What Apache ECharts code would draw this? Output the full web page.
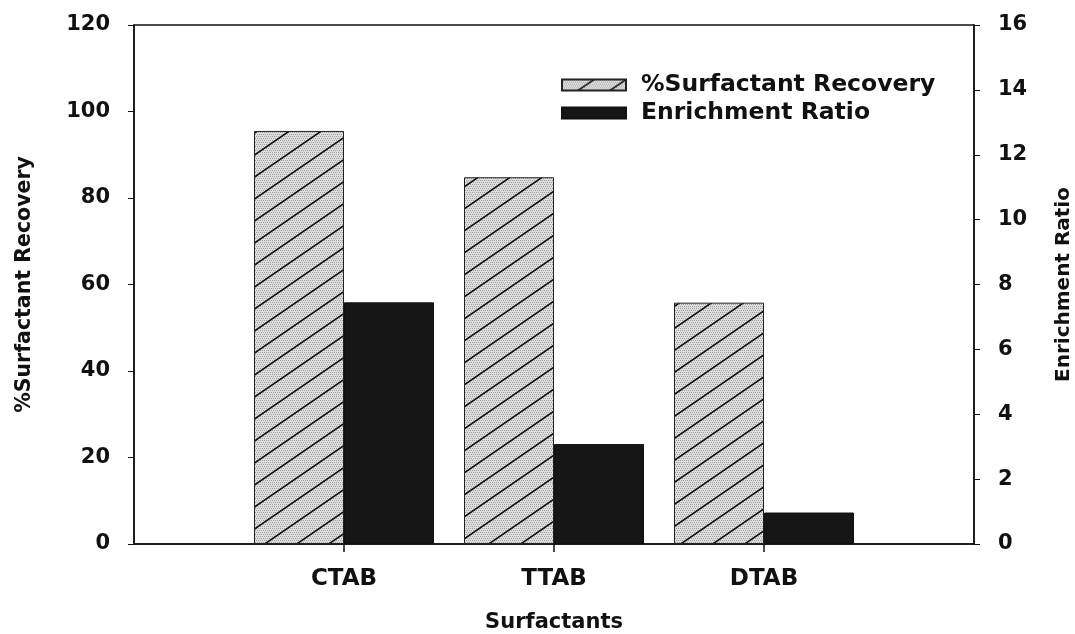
<!DOCTYPE html>
<html>
<head>
<meta charset="utf-8">
<script src="https://cdn.jsdelivr.net/npm/echarts@6/dist/echarts.min.js"></script>
<style>
html, body { margin: 0; padding: 0; background: #fff; }
#chart { width: 1075px; height: 634px; }
</style>
</head>
<body>
<div id="chart"></div>
<script>
// data
var surfactants = ['', 'CTAB', 'TTAB', 'DTAB', ''];
var recovery = ['-', 95.5, 84.8, 55.8, '-'];      // %Surfactant Recovery (left axis)
var enrichment = ['-', 7.45, 3.08, 0.97, '-'];    // Enrichment Ratio (right axis)

// hatched + dotted fill for the recovery bars
function hatch() {
    var w = 32, h = 22;
    var c = document.createElement('canvas');
    c.width = w; c.height = h;
    var ctx = c.getContext('2d');
    ctx.fillStyle = '#dedede';
    ctx.fillRect(0, 0, w, h);
    ctx.fillStyle = '#a0a0a0';
    for (var y = 0; y < h; y += 2) {
        for (var x = (y % 4 ? 1 : 0); x < w; x += 2) {
            ctx.fillRect(x, y, 1, 1);
        }
    }
    ctx.strokeStyle = '#111';
    ctx.lineWidth = 1.6;
    ctx.beginPath();
    ctx.moveTo(-w, 2 * h); ctx.lineTo(2 * w, -h);
    ctx.moveTo(-2 * w, 2 * h); ctx.lineTo(w, -h);
    ctx.moveTo(0, 2 * h); ctx.lineTo(3 * w, -h);
    ctx.stroke();
    return c;
}

var font = '"DejaVu Sans", Verdana, sans-serif';
var chart = echarts.init(document.getElementById('chart'));
chart.setOption({
    animation: false,
    textStyle: { fontFamily: font },
    grid: {
        left: 134,
        right: 101,
        top: 25,
        bottom: 90,
        containLabel: false,
        outerBoundsMode: 'none',
        show: true,
        borderColor: '#111',
        borderWidth: 1.5
    },
    legend: {
        orient: 'vertical',
        left: 556,
        top: 68,
        itemWidth: 64,
        itemHeight: 11,
        itemGap: 4,
        icon: 'rect',
        textStyle: { fontSize: 23.5, fontWeight: 'bold', color: '#111', fontFamily: font, padding: [0, 0, 0, 10] },
        data: ['%Surfactant Recovery', 'Enrichment Ratio']
    },
    xAxis: {
        type: 'category',
        data: surfactants,
        boundaryGap: false,
        name: 'Surfactants',
        nameLocation: 'middle',
        nameGap: 68,
        nameTextStyle: { fontSize: 21, fontWeight: 'bold', color: '#111' },
        axisLine: { lineStyle: { color: '#111', width: 1.5 } },
        axisTick: {
            length: 8,
            interval: function (i, v) { return v !== ''; },
            lineStyle: { color: '#111', width: 1.5 }
        },
        axisLabel: { fontSize: 23, fontWeight: 'bold', color: '#111', margin: 24 },
        splitLine: { show: false }
    },
    yAxis: [
        {
            type: 'value',
            min: 0,
            max: 120,
            interval: 20,
            name: '%Surfactant Recovery',
            nameLocation: 'middle',
            nameGap: 99,
            nameTextStyle: { fontSize: 20.5, fontWeight: 'bold', color: '#111' },
            axisLine: { show: true, lineStyle: { color: '#111', width: 1.5 } },
            axisTick: { show: true, length: 6, lineStyle: { color: '#111' } },
            axisLabel: { fontSize: 21, fontWeight: 'bold', color: '#111', margin: 24 },
            splitLine: { show: false }
        },
        {
            type: 'value',
            min: 0,
            max: 16,
            interval: 2,
            name: 'Enrichment Ratio',
            nameLocation: 'middle',
            nameGap: 80,
            nameTextStyle: { fontSize: 20, fontWeight: 'bold', color: '#111' },
            axisLine: { show: true, lineStyle: { color: '#111', width: 1.5 } },
            axisTick: { show: true, length: 6, lineStyle: { color: '#111' } },
            axisLabel: { fontSize: 21, fontWeight: 'bold', color: '#111', margin: 24 },
            splitLine: { show: false }
        }
    ],
    series: [
        {
            name: '%Surfactant Recovery',
            type: 'bar',
            yAxisIndex: 0,
            barWidth: 90,
            barGap: '0%',
            data: recovery,
            itemStyle: {
                color: { image: hatch(), repeat: 'repeat' },
                borderColor: '#222',
                borderWidth: 1
            }
        },
        {
            name: 'Enrichment Ratio',
            type: 'bar',
            yAxisIndex: 1,
            barWidth: 90,
            data: enrichment,
            itemStyle: {
                color: '#161616',
                borderColor: '#111',
                borderWidth: 1
            }
        }
    ]
});
</script>
</body>
</html>
